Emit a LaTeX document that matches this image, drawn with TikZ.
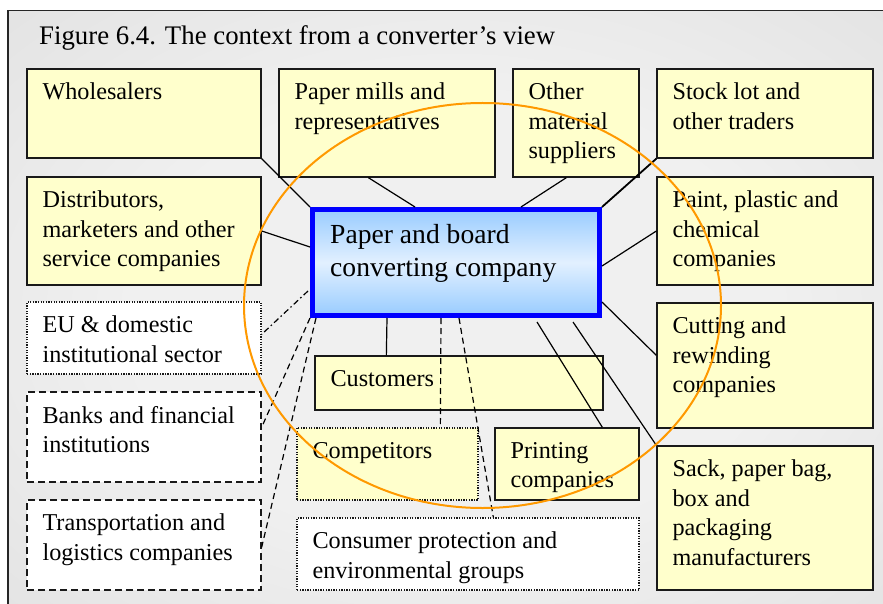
\documentclass[tikz,border=0pt]{standalone}
\usepackage{fontspec}
\setmainfont{Liberation Serif}
\definecolor{paleyellow}{HTML}{FFFFCC}
\definecolor{bgin}{HTML}{F0F0F0}
\definecolor{bgout}{HTML}{D9D9D9}
\definecolor{convtop}{HTML}{99CCFF}
\definecolor{convmid}{HTML}{E2F0FF}
\definecolor{ringorange}{HTML}{FF9900}
\pgfdeclareradialshading{backdrop}{\pgfpoint{0bp}{0bp}}{color(0bp)=(bgin); color(18bp)=(bgin); color(50bp)=(bgout)}
\begin{document}
\begin{tikzpicture}[x=1pt,y=-1pt]
\tikzstyle{box} = [draw=black!90, line width=1.3pt, fill=paleyellow, inner sep=0]
\tikzstyle{dotbox} = [box, dash pattern=on 1.3pt off 1.3pt]
\tikzstyle{dashbox} = [box, fill=white, dash pattern=on 7pt off 4pt]
\tikzstyle{txt} = [anchor=north west, inner sep=0, align=left, font=\fontsize{24.2}{29.5}\selectfont]
\tikzstyle{link} = [draw, line width=1.2pt]
\tikzstyle{dashlink} = [link, dash pattern=on 6pt off 4pt]
\tikzstyle{dotlink} = [link, dash pattern=on 6pt off 3pt on 1.5pt off 3pt]
    \useasboundingbox (0,0) rectangle (883,604);
    \clip (0,0) rectangle (883,604);
    \fill[white] (0,0) rectangle (883,604);
    \shadedraw[shading=backdrop, draw=black!85, line width=1.3pt] (8,10.5) rectangle (900,620);
    \node[anchor=base west, inner sep=0, font=\fontsize{26.8}{32}\selectfont] (v0) at (39,44.5) {Figure 6.4. The context from a converter's view};

\node [box, minimum width=234pt, minimum height=89pt] (v1) at (144,113.5) {};
\node [box, minimum width=234pt, minimum height=108pt] (v2) at (144,231) {};
\node [box, minimum width=216pt, minimum height=108pt] (v3) at (387,123) {};
\node [box, minimum width=126pt, minimum height=108pt] (v4) at (576,123) {};
\node [box, minimum width=216pt, minimum height=89pt] (v5) at (765,113.5) {};
\node [box, minimum width=216pt, minimum height=108pt] (v6) at (765,231) {};
\node [box, minimum width=216pt, minimum height=125pt] (v7) at (765,365.5) {};
\node [box, minimum width=216pt, minimum height=144pt] (v8) at (765,518) {};
\node [draw=blue, line width=5pt, top color=convtop, bottom color=convtop, middle color=convmid, inner sep=0,
	minimum width=287pt, minimum height=106pt] (v9) at (456,262.5) {};
\node [box, minimum width=288pt, minimum height=54pt] (v10) at (459,383) {};
\node [dotbox, minimum width=181pt, minimum height=72pt] (v11) at (387.5,464) {};
\node [box, minimum width=144pt, minimum height=72pt] (v12) at (567,464) {};
\node [dotbox, fill=white, minimum width=342pt, minimum height=72pt] (v13) at (468,554) {};
\node [dotbox, fill=white, minimum width=234pt, minimum height=72pt] (v14) at (144,338) {};
\node [dashbox, minimum width=234pt, minimum height=90pt] (v15) at (144,437) {};
\node [dashbox, minimum width=234pt, minimum height=90pt] (v16) at (144,545) {};

\node [txt] (t1) at ([shift={(16,14.5)}]v1.north west) {Wholesalers};
\node [txt] (t2) at ([shift={(16,14.5)}]v2.north west) {Distributors,\\marketers and other\\service companies};
\node [txt] (t3) at ([shift={(16,14.5)}]v3.north west) {Paper mills and\\representatives};
\node [txt] (t4) at ([shift={(16,14.5)}]v4.north west) {Other\\material\\suppliers};
\node [txt] (t5) at ([shift={(16,14.5)}]v5.north west) {Stock lot and\\other traders};
\node [txt] (t6) at ([shift={(16,14.5)}]v6.north west) {Paint, plastic and\\chemical\\companies};
\node [txt] (t7) at ([shift={(16,14.5)}]v7.north west) {Cutting and\\rewinding\\companies};
\node [txt] (t8) at ([shift={(16,14.5)}]v8.north west) {Sack, paper bag,\\box and\\packaging\\manufacturers};
\node [txt, font=\fontsize{27.6}{33.4}\selectfont] (t9) at ([shift={(20,17)}]v9.north west) {Paper and board\\converting company};
\node [txt] (t10) at ([shift={(16,14.5)}]v10.north west) {Customers};
\node [txt] (t11) at ([shift={(16,14.5)}]v11.north west) {Competitors};
\node [txt] (t12) at ([shift={(16,14.5)}]v12.north west) {Printing\\companies};
\node [txt] (t13) at ([shift={(16,14.5)}]v13.north west) {Consumer protection and\\environmental groups};
\node [txt] (t14) at ([shift={(16,14.5)}]v14.north west) {EU \& domestic\\institutional sector};
\node [txt] (t15) at ([shift={(16,14.5)}]v15.north west) {Banks and financial\\institutions};
\node [txt] (t16) at ([shift={(16,14.5)}]v16.north west) {Transportation and\\logistics companies};

\draw [link] (v1.south east) -- (v9.north west);
\draw [link] ([shift={(90,0)}]v3.south west) -- ([shift={(105,0)}]v9.north west);
\draw [link] ([shift={(54,0)}]v4.south west) -- ([shift={(211,0)}]v9.north west);
\draw [link, line width=1.8pt] (v5.south west) -- (v9.north east);
\draw [link] (v2.east) -- ([shift={(0,40)}]v9.north west);
\draw [link] ([shift={(0,59)}]v9.north east) -- (v6.west);
\draw [link] ([shift={(0,95)}]v9.north east) -- ([shift={(0,53)}]v7.north west);
\draw [link] ([shift={(77,0)}]v9.south west) -- ([shift={(72,0)}]v10.north west);
\draw [link] ([shift={(227,4)}]v9.south west) -- ([shift={(108,0)}]v12.north west);
\draw [link] ([shift={(263,4)}]v9.south west) -- (v8.north west);
\draw [dotlink] ([shift={(-2,84)}]v9.north west) -- ([shift={(0,33)}]v14.north east);
\draw [dashlink] (v9.south west) -- ([shift={(0,36)}]v15.north east);
\draw [dashlink] ([shift={(6,0)}]v9.south west) -- ([shift={(0,48)}]v16.north east);
\draw [dashlink] ([shift={(131,0)}]v9.south west) -- ([shift={(144,0)}]v11.north west);
\draw [dashlink] ([shift={(149,0)}]v9.south west) -- ([shift={(197,0)}]v13.north west);

\draw [ringorange, line width=2pt] (482.5,305.5) ellipse [x radius=238.5pt, y radius=202.5pt];
\end{tikzpicture}
\end{document}
